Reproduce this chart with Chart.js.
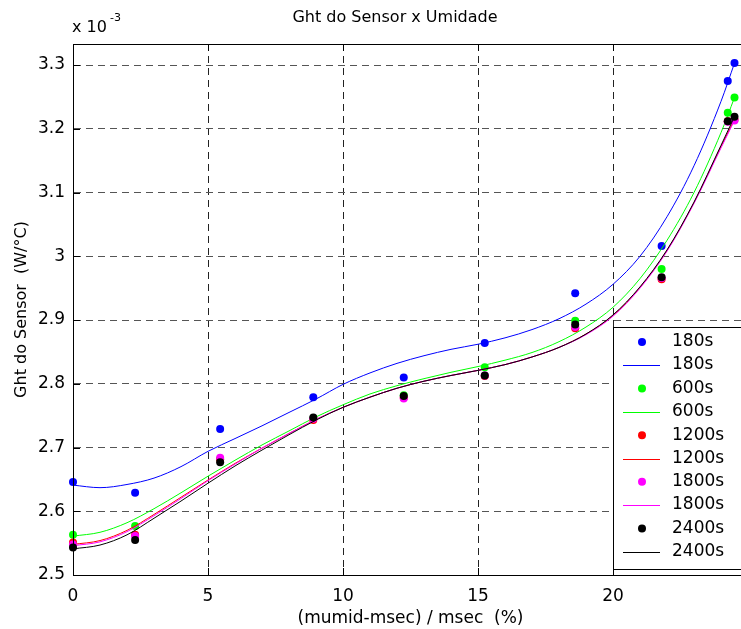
<!DOCTYPE html>
<html>
<head>
<meta charset="utf-8">
<script src="https://cdn.jsdelivr.net/npm/chart.js@4.4.1/dist/chart.umd.min.js"></script>
<style>
    html, body { margin: 0; padding: 0; background: #fff; overflow: hidden; }
    /* the axes run a little past the right edge of the picture, as in the original */
    #wrap { width: 741px; height: 629px; overflow: hidden; }
</style>
</head>
<body>
<div id="wrap"><canvas id="ght-chart" width="752" height="629"></canvas></div>
<script>
    // Measured points (Ght in units of 1e-3 W/°C)
    const xMeasured = [0, 2.3, 5.45, 8.9, 12.25, 15.25, 18.6, 21.8, 24.25, 24.5];
    const ght180  = [2.646, 2.629, 2.729, 2.779, 2.810, 2.864, 2.942, 3.016, 3.275, 3.303];
    const ght600  = [2.563, 2.577, 2.682, 2.746, 2.782, 2.826, 2.899, 2.980, 3.225, 3.249];
    const ght1200 = [2.551, 2.563, 2.681, 2.743, 2.778, 2.812, 2.887, 2.964, 3.212, 3.214];
    const ght1800 = [2.548, 2.561, 2.684, 2.745, 2.777, 2.813, 2.889, 2.966, 3.211, 3.213];
    const ght2400 = [2.543, 2.555, 2.677, 2.747, 2.781, 2.813, 2.893, 2.967, 3.212, 3.219];

    // Fitted curves
    const xFit = [0, 1, 2, 3, 4, 5, 6, 7, 8, 9, 10, 11, 12, 13, 14, 15, 16, 17, 18, 19, 20, 21, 22, 23, 24, 24.5];
    const fit180  = [2.641, 2.637, 2.642, 2.652, 2.670, 2.694, 2.714, 2.734, 2.755, 2.776, 2.799, 2.817, 2.832, 2.844, 2.854, 2.862, 2.872, 2.885, 2.902, 2.925, 2.956, 3.000, 3.062, 3.142, 3.243, 3.303];
    const fit600  = [2.561, 2.567, 2.582, 2.604, 2.629, 2.655, 2.680, 2.704, 2.726, 2.748, 2.767, 2.784, 2.797, 2.808, 2.818, 2.827, 2.837, 2.849, 2.866, 2.889, 2.920, 2.965, 3.025, 3.100, 3.194, 3.249];
    const fit1200 = [2.548, 2.554, 2.570, 2.595, 2.622, 2.649, 2.675, 2.699, 2.722, 2.744, 2.763, 2.779, 2.793, 2.804, 2.813, 2.821, 2.830, 2.842, 2.857, 2.878, 2.907, 2.951, 3.009, 3.084, 3.172, 3.215];
    const fit1800 = [2.546, 2.552, 2.568, 2.593, 2.620, 2.648, 2.674, 2.699, 2.722, 2.744, 2.763, 2.779, 2.793, 2.804, 2.813, 2.821, 2.830, 2.842, 2.857, 2.877, 2.906, 2.950, 3.008, 3.083, 3.170, 3.213];
    const fit2400 = [2.541, 2.547, 2.563, 2.589, 2.616, 2.644, 2.671, 2.696, 2.720, 2.743, 2.763, 2.779, 2.793, 2.804, 2.813, 2.821, 2.830, 2.842, 2.857, 2.878, 2.908, 2.952, 3.010, 3.085, 3.174, 3.219];

    const seriesNames = ['180s', '600s', '1200s', '1800s', '2400s'];
    const seriesColors = ['#0000ff', '#00ff00', '#ff0000', '#ff00ff', '#000000'];
    const measured = [ght180, ght600, ght1200, ght1800, ght2400];
    const fitted = [fit180, fit600, fit1200, fit1800, fit2400];

    const xTicks = [0, 5, 10, 15, 20];
    const yTicks = [2.5, 2.6, 2.7, 2.8, 2.9, 3, 3.1, 3.2, 3.3];

    const FONT = "'DejaVu Sans', Verdana, sans-serif";

    function toXY(xs, ys) {
        return xs.map((x, i) => ({ x: x, y: ys[i] }));
    }

    // Build datasets: dots then fitted line for each series
    const datasets = [];
    seriesNames.forEach((name, i) => {
        datasets.push({
            label: name,
            data: toXY(xMeasured, measured[i]),
            showLine: false,
            pointRadius: 4,
            pointBorderWidth: 0,
            pointBackgroundColor: seriesColors[i],
            clip: false
        });
        datasets.push({
            label: name,
            data: toXY(xFit, fitted[i]),
            showLine: true,
            pointRadius: 0,
            borderColor: seriesColors[i],
            borderWidth: 1,
            cubicInterpolationMode: 'monotone',
            clip: false
        });
    });
    // later series drawn on top
    datasets.forEach((d, k) => { d.order = datasets.length - k; });

    // Title, frame, inner ticks, exponent label and legend box (MATLAB look)
    const decorPlugin = {
        id: 'decor',
        afterDraw(chart) {
            const ctx = chart.ctx;
            const area = chart.chartArea;
            const xs = chart.scales.x, ys = chart.scales.y;
            ctx.save();

            // box
            ctx.strokeStyle = '#000';
            ctx.lineWidth = 1;
            ctx.strokeRect(Math.round(area.left) + 0.5, Math.round(area.top) + 0.5,
                Math.round(area.right - area.left), Math.round(area.bottom - area.top));

            // inward ticks
            ctx.beginPath();
            xTicks.forEach(v => {
                const px = Math.round(xs.getPixelForValue(v)) + 0.5;
                ctx.moveTo(px, area.top); ctx.lineTo(px, area.top + 7);
                ctx.moveTo(px, area.bottom); ctx.lineTo(px, area.bottom - 7);
            });
            yTicks.forEach(v => {
                const py = Math.round(ys.getPixelForValue(v)) + 0.5;
                ctx.moveTo(area.left, py); ctx.lineTo(area.left + 7, py);
                ctx.moveTo(area.right, py); ctx.lineTo(area.right - 7, py);
            });
            ctx.stroke();

            // title
            ctx.fillStyle = '#000';
            ctx.textAlign = 'center';
            ctx.textBaseline = 'middle';
            ctx.font = '16px ' + FONT;
            ctx.fillText('Ght do Sensor x Umidade', 395, 18);

            // exponent
            ctx.textBaseline = 'alphabetic';
            ctx.textAlign = 'left';
            ctx.fillText('x 10', 72, 32);
            ctx.font = '11px ' + FONT;
            ctx.fillText('-3', 110, 21);

            // legend
            const lx = 613, ly = 327, lw = 150, lh = 242, rowH = 23.3;
            ctx.fillStyle = '#fff';
            ctx.fillRect(lx, ly, lw, lh);
            ctx.strokeStyle = '#000';
            ctx.strokeRect(lx + 0.5, ly + 0.5, lw, lh);
            ctx.font = '17px ' + FONT;
            ctx.textBaseline = 'middle';
            seriesNames.forEach((name, i) => {
                const yDot = ly + 15 + rowH * (2 * i);
                const yLine = Math.round(yDot + rowH);
                ctx.fillStyle = seriesColors[i];
                ctx.beginPath();
                ctx.arc(642, yDot, 4, 0, Math.PI * 2);
                ctx.fill();
                ctx.fillRect(623, yLine, 37, 1);
                ctx.fillStyle = '#000';
                ctx.fillText(name, 672, yDot);
                ctx.fillText(name, 672, yLine);
            });
            ctx.restore();
        }
    };

    new Chart(document.getElementById('ght-chart'), {
        type: 'scatter',
        data: { datasets: datasets },
        options: {
            responsive: false,
            devicePixelRatio: 1,
            animation: false,
            layout: { padding: { left: 0, right: 1, top: 44, bottom: 0 } },
            plugins: {
                legend: { display: false },
                tooltip: { enabled: false },
                title: { display: false }
            },
            scales: {
                x: {
                    type: 'linear',
                    min: 0,
                    max: 25,
                    afterBuildTicks: s => { s.ticks = xTicks.map(v => ({ value: v })); },
                    afterFit: s => { s.height = 54; s.paddingRight = 0; },
                    ticks: {
                        color: '#000',
                        font: { family: FONT, size: 17 },
                        padding: 11,
                        maxRotation: 0
                    },
                    grid: { color: '#222', lineWidth: 1, drawTicks: false },
                    border: { display: true, color: '#000', dash: [7, 5] },
                    title: {
                        display: true,
                        text: '(mumid-msec) / msec  (%)',
                        color: '#000',
                        font: { family: FONT, size: 17 },
                        padding: { top: 0, bottom: 0 }
                    }
                },
                y: {
                    type: 'linear',
                    min: 2.5,
                    max: 3.333,
                    afterBuildTicks: s => { s.ticks = yTicks.map(v => ({ value: v })); },
                    afterFit: s => { s.width = 73; },
                    ticks: {
                        color: '#000',
                        font: { family: FONT, size: 17 },
                        padding: 8,
                        callback: v => String(v)
                    },
                    grid: { color: '#555', lineWidth: 1, drawTicks: false },
                    border: { display: true, color: '#000', dash: [7, 5] },
                    title: {
                        display: true,
                        text: 'Ght do Sensor  (W/°C)',
                        color: '#000',
                        font: { family: FONT, size: 16 },
                        padding: { top: 12, bottom: 0 }
                    }
                }
            }
        },
        plugins: [decorPlugin]
    });
</script>
</body>
</html>
